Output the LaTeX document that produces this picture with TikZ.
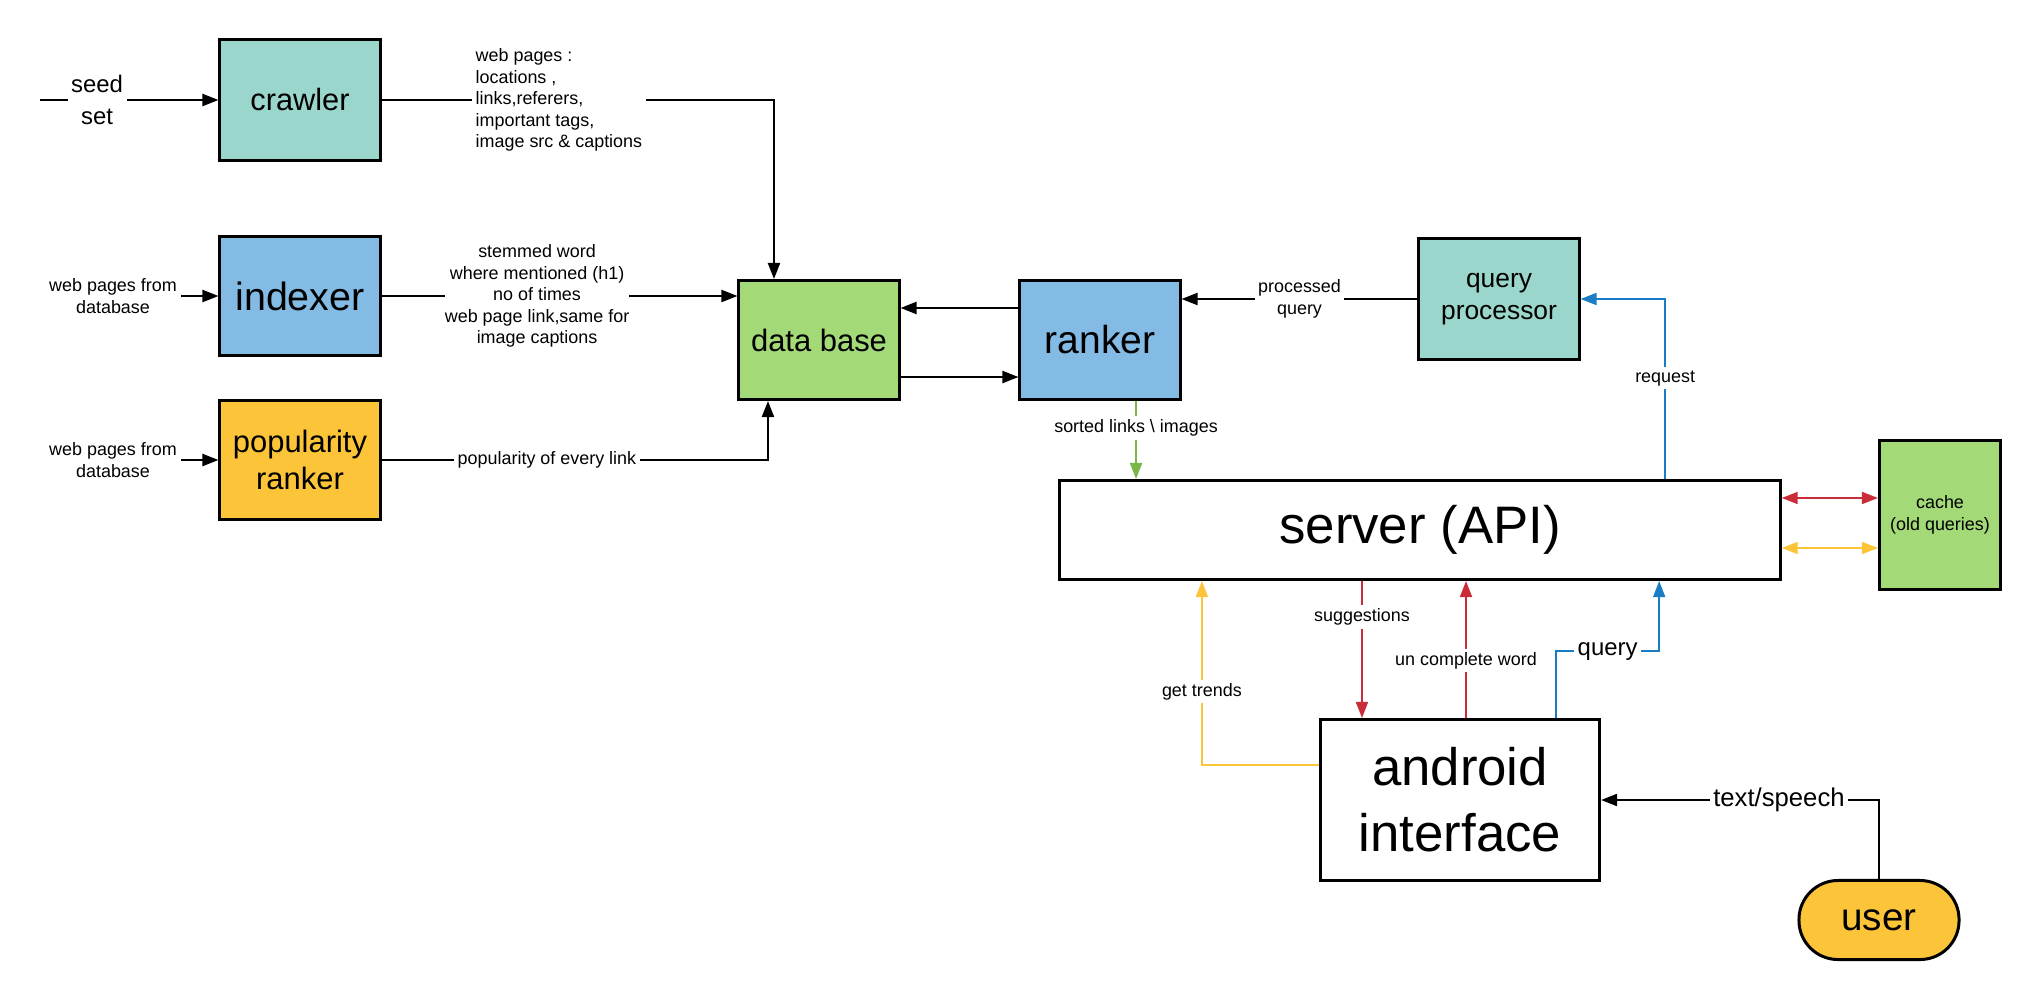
\documentclass[tikz,border=0pt]{standalone}
\usepackage{fontspec}
\setmainfont{Liberation Sans}
\usetikzlibrary{arrows.meta}
\definecolor{crawlcol}{HTML}{9AD6CB}
\definecolor{indexcol}{HTML}{83BBE5}
\definecolor{popcol}{HTML}{FCC438}
\definecolor{dbcol}{HTML}{A3D977}
\definecolor{redline}{HTML}{C92D39}
\definecolor{blueline}{HTML}{1A7CC4}
\definecolor{greenline}{HTML}{7AB648}
\definecolor{yellowline}{HTML}{FCC438}
\begin{document}
\begin{tikzpicture}[x=0.01cm,y=-0.01cm,
	box/.style={draw=black,line width=0.85pt,inner sep=0pt,align=center},
	tip/.style={line width=0.6pt,-{Triangle[length=0.16cm,width=0.12cm]}},
	both/.style={line width=0.5pt,{Triangle[length=0.16cm,width=0.12cm]}-{Triangle[length=0.16cm,width=0.12cm]}},
	lbl/.style={fill=white,inner sep=1pt,align=center,font=\fontsize{5.1}{6.1}\selectfont}]
	\useasboundingbox (0,0) rectangle (2040,1000);
	% boxes
	\node[box,fill=crawlcol,minimum width=1.6cm,minimum height=1.2cm,font=\fontsize{8.75}{10.5}\selectfont] (crawler) at (300,100) {crawler};
	\node[box,fill=indexcol,minimum width=1.6cm,minimum height=1.18cm,font=\fontsize{11.2}{13}\selectfont] (indexer) at (300,296) {indexer};
	\node[box,fill=popcol,minimum width=1.6cm,minimum height=1.18cm,font=\fontsize{8.8}{10.3}\selectfont] (popranker) at (300,460) {popularity\\ranker};
	\node[box,fill=dbcol,minimum width=1.6cm,minimum height=1.19cm,font=\fontsize{8.8}{10.5}\selectfont] (db) at (819,340) {data base};
	\node[box,fill=indexcol,minimum width=1.6cm,minimum height=1.19cm,font=\fontsize{11.1}{13}\selectfont] (ranker) at (1100,340) {ranker};
	\node[box,fill=crawlcol,minimum width=1.6cm,minimum height=1.2cm,font=\fontsize{7.5}{8.9}\selectfont] (qp) at (1499,299) {query\\processor};
	\node[box,fill=white,minimum width=7.2cm,minimum height=0.99cm,font=\fontsize{15}{18}\selectfont] (server) at (1420,530) {server (API)};
	\node[box,fill=dbcol,minimum width=1.21cm,minimum height=1.49cm,font=\fontsize{5.1}{6.3}\selectfont] (cache) at (1940,515) {cache\\(old queries)};
	\node[box,fill=white,minimum width=2.79cm,minimum height=1.61cm,font=\fontsize{15}{18.8}\selectfont] (android) at (1460,800) {android\\interface};
	\node[box,fill=popcol,rounded corners=0.39cm,minimum width=1.6cm,minimum height=0.79cm,font=\fontsize{11}{13}\selectfont] (user) at (1879,920) {user};
	% inputs
	\coordinate (seedin) at (40,100);
	\node[lbl] (idxsrc) at (113,296) {web pages from\\database};
	\node[lbl] (popsrc) at (113,460) {web pages from\\database};
	\draw[tip] (seedin) -- node[lbl,pos=0.32,font=\fontsize{6.8}{8.9}\selectfont]{seed\\set} (crawler);
	\draw[tip] (idxsrc) -- (indexer);
	\draw[tip] (popsrc) -- (popranker);
	% into data base
	\coordinate (dbtop) at ([xshift=-0.45cm]db.north);
	\coordinate (dbbot) at ([xshift=-0.51cm]db.south);
	\draw[tip] (crawler.east) -- node[lbl,pos=0.452,align=left]{web pages :\\locations ,\\links,referers,\\important tags,\\image src \& captions} (crawler.east -| dbtop) -- (dbtop);
	\draw[tip] (indexer) -- node[lbl,pos=0.437,inner sep=0pt]{stemmed word\\where mentioned (h1)\\no of times\\web page link,same for\\image captions} (indexer -| db.west);
	\draw[tip] (popranker.east) -- node[lbl,pos=0.428]{popularity of every link} (popranker.east -| dbbot) -- (dbbot);
	\draw[tip] ([yshift=0.32cm]ranker.west) -- ([yshift=0.32cm]db.east);
	\draw[tip] ([yshift=-0.37cm]db.east) -- ([yshift=-0.37cm]ranker.west);
	% query side
	\draw[tip] (qp.west) -- node[lbl]{processed\\query} (qp.west -| ranker.east);
	\coordinate (reqout) at ([xshift=2.45cm]server.north);
	\draw[tip,blueline,line width=0.5pt] (reqout) -- node[lbl,pos=0.56,text=black]{request} (reqout |- qp.east) -- (qp.east);
	\coordinate (sortout) at ([xshift=0.36cm]ranker.south);
	\draw[tip,greenline,line width=0.5pt] (sortout) -- node[lbl,pos=0.35,text=black]{sorted links \textbackslash{} images} (sortout |- server.north);
	% cache
	\draw[both,redline] ([yshift=0.32cm]server.east) -- ([yshift=0.32cm]server.east -| cache.west);
	\draw[both,yellowline] ([yshift=-0.18cm]server.east) -- ([yshift=-0.18cm]server.east -| cache.west);
	% android
	\coordinate (sugout) at ([xshift=-0.58cm]server.south);
	\draw[tip,redline,line width=0.5pt] (sugout) -- node[lbl,pos=0.26,text=black]{suggestions} (sugout |- android.north);
	\coordinate (ucwout) at ([xshift=0.06cm]android.north);
	\draw[tip,redline,line width=0.5pt] (ucwout) -- node[lbl,pos=0.42,text=black]{un complete word} (ucwout |- server.south);
	\coordinate (qout) at ([xshift=0.96cm]android.north);
	\coordinate (qin) at ([xshift=2.39cm]server.south);
	\coordinate (qbend) at ([yshift=-0.7cm]qin);
	\draw[tip,blueline,line width=0.5pt] (qout) |- node[lbl,pos=0.75,text=black,font=\fontsize{6.8}{8}\selectfont]{query} (qbend) -- (qin);
	\coordinate (gtout) at ([yshift=0.35cm]android.west);
	\coordinate (gtin) at ([xshift=-2.18cm]server.south);
	\draw[tip,yellowline,line width=0.5pt] (gtout) -| node[lbl,pos=0.7,text=black]{get trends} (gtin);
	\draw[tip] (user.north) |- node[lbl,pos=0.68,font=\fontsize{7.3}{8.5}\selectfont]{text/speech} (android.east);
\end{tikzpicture}
\end{document}
